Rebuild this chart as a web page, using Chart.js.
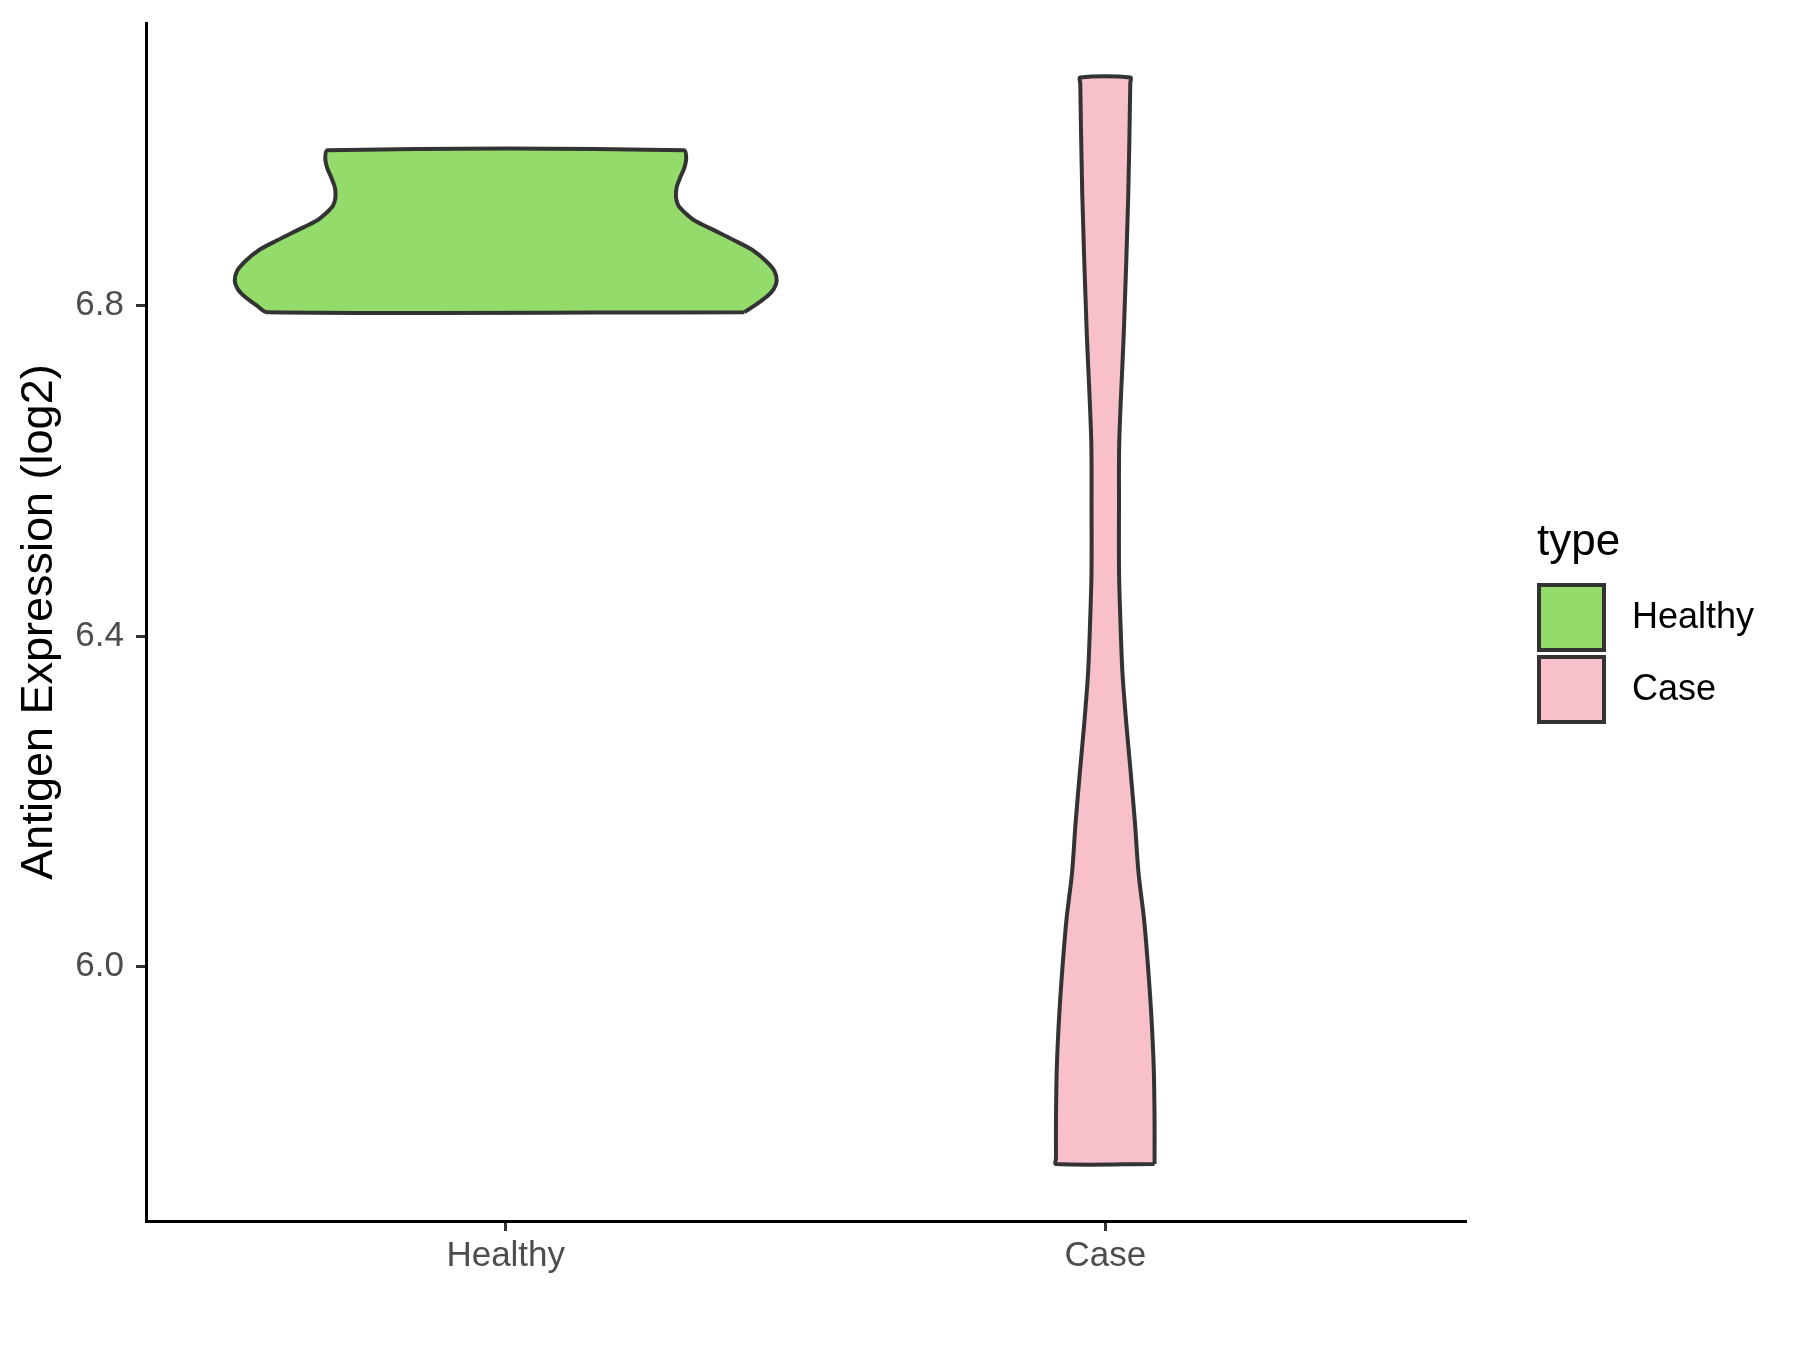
<!DOCTYPE html>
<html>
<head>
<meta charset="utf-8">
<script src="https://cdn.jsdelivr.net/npm/chart.js@4"></script>
<style>
  body { margin: 0; background: #fff; }
  canvas { display: block; }
</style>
</head>
<body>
<canvas id="chart" width="1800" height="1350"></canvas>
<script>
const categories = ["Healthy", "Case"];
const yTicks = [6.0, 6.4, 6.8];

// violin outlines: value (log2) and half width (category units), bottom to top
const healthyY = [6.792, 6.800, 6.810, 6.820, 6.830, 6.842, 6.854, 6.867, 6.879, 6.891, 6.903, 6.913, 6.921, 6.931, 6.943, 6.955, 6.967, 6.979, 6.988];
const healthyWidth = [0.398, 0.415, 0.434, 0.447, 0.452, 0.448, 0.434, 0.412, 0.381, 0.348, 0.315, 0.298, 0.288, 0.284, 0.285, 0.291, 0.298, 0.301, 0.297];

const caseY = [5.761, 5.768, 5.815, 5.876, 5.936, 5.996, 6.057, 6.113, 6.174, 6.234, 6.295, 6.355, 6.415, 6.476, 6.556, 6.637, 6.773, 6.935, 7.069, 7.076];
const caseWidth = [0.0822, 0.0822, 0.0822, 0.0809, 0.0772, 0.0717, 0.0647, 0.0555, 0.0495, 0.0425, 0.0350, 0.0287, 0.0254, 0.0230, 0.0229, 0.0234, 0.0312, 0.0384, 0.0417, 0.0417];

const fillColors = ["#93DB6A", "#F7C0CB"];
const font = '"Liberation Sans", Arial, sans-serif';

Chart.defaults.font.family = font;

function violinPoints(center, ys, widths) {
  const right = ys.map((y, i) => ({ x: center + widths[i], y }));
  const left = ys.map((y, i) => ({ x: center - widths[i], y })).reverse();
  return [...right, ...left, right[0]];
}

function violin(i, ys, widths) {
  return {
    label: categories[i],
    data: violinPoints(i + 1, ys, widths),
    backgroundColor: fillColors[i],
    borderColor: "#333333",
    borderWidth: 4,
    borderJoinStyle: "round",
    showLine: true,
    fill: "shape",
    tension: 0.3,
    pointRadius: 0
  };
}

const legendPlugin = {
  id: "typeLegend",
  afterDraw(chart) {
    const ctx = chart.ctx;
    ctx.save();
    ctx.fillStyle = "#000";
    ctx.font = "44px " + font;
    ctx.textBaseline = "alphabetic";
    ctx.textAlign = "left";
    ctx.fillText("type", 1537, 555);
    chart.data.datasets.forEach((ds, i) => {
      const y = 585 + i * 72;
      ctx.fillStyle = ds.backgroundColor;
      ctx.fillRect(1539, y, 65, 65);
      ctx.strokeStyle = "#333333";
      ctx.lineWidth = 4;
      ctx.strokeRect(1539, y, 65, 65);
      ctx.fillStyle = "#000";
      ctx.font = "36px " + font;
      ctx.textBaseline = "middle";
      ctx.fillText(ds.label, 1632, y + 33);
    });
    ctx.restore();
  }
};

new Chart(document.getElementById("chart"), {
  type: "scatter",
  data: {
    datasets: [
      violin(0, healthyY, healthyWidth),
      violin(1, caseY, caseWidth)
    ]
  },
  options: {
    responsive: false,
    animation: false,
    layout: { padding: { top: 23, right: 335, bottom: 0, left: 0 } },
    plugins: {
      legend: { display: false },
      tooltip: { enabled: false }
    },
    scales: {
      x: {
        type: "linear",
        min: 0.4,
        max: 2.6,
        afterFit: s => { s.height = 129; s.paddingLeft = 0; s.paddingRight = 0; },
        afterBuildTicks: s => { s.ticks = [1, 2].map(v => ({ value: v })); },
        ticks: {
          callback: v => categories[v - 1],
          color: "#4D4D4D",
          font: { size: 35 },
          padding: 4,
          maxRotation: 0
        },
        grid: { drawOnChartArea: false, drawTicks: true, tickLength: 10, color: "#333333", lineWidth: 3 },
        border: { display: true, color: "#000", width: 3 }
      },
      y: {
        min: 5.692,
        max: 7.142,
        afterFit: s => { s.width = 146; s.paddingTop = 0; s.paddingBottom = 0; },
        afterBuildTicks: s => { s.ticks = yTicks.map(v => ({ value: v })); },
        ticks: {
          callback: v => v.toFixed(1),
          color: "#4D4D4D",
          font: { size: 35 },
          padding: 12
        },
        grid: { drawOnChartArea: false, drawTicks: true, tickLength: 10, color: "#333333", lineWidth: 3 },
        border: { display: true, color: "#000", width: 3 },
        title: {
          display: true,
          text: "Antigen Expression (log2)",
          color: "#000",
          font: { size: 45 },
          padding: { top: 13, bottom: 0 }
        }
      }
    }
  },
  plugins: [legendPlugin]
});
</script>
</body>
</html>
